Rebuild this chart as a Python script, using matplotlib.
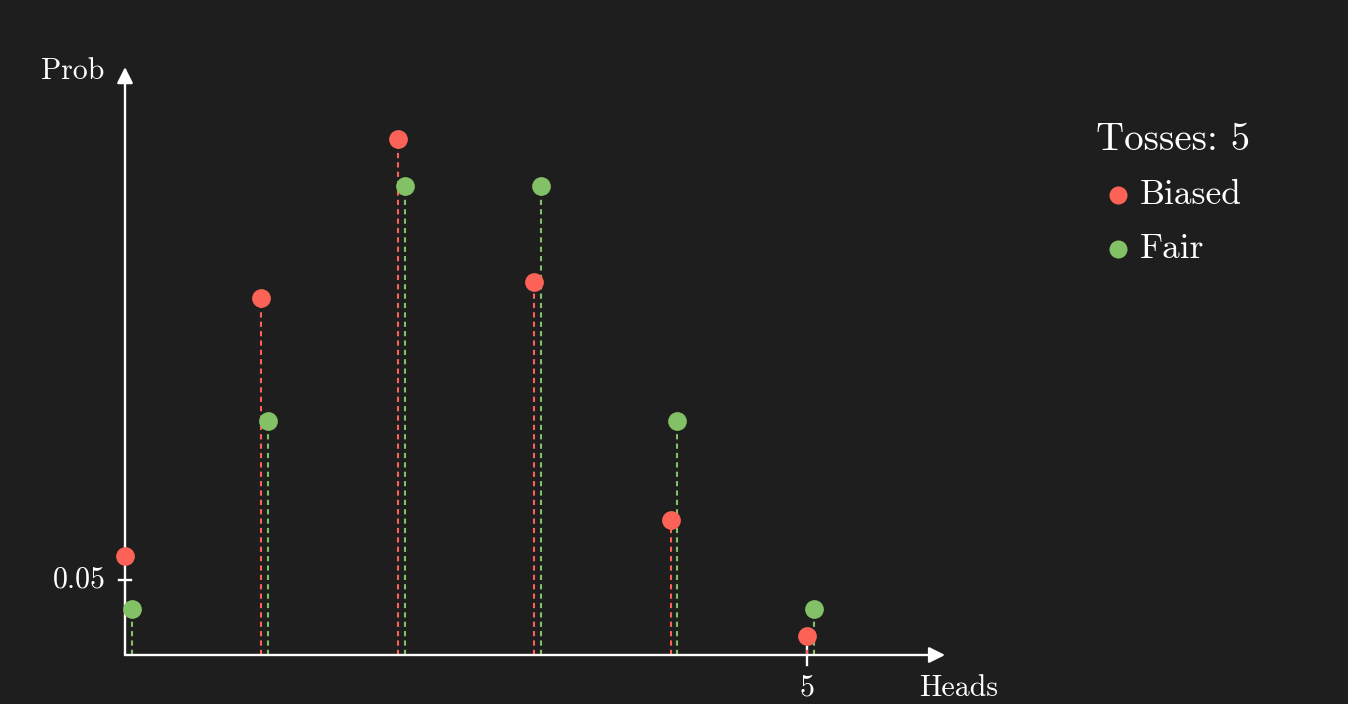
import matplotlib.pyplot as plt

# valeurs
heads = [0, 1, 2, 3, 4, 5]
biased = [0.066, 0.238, 0.344, 0.249, 0.090, 0.013]
fair = [0.031, 0.156, 0.3125, 0.3125, 0.156, 0.031]
series_names = ["Biased", "Fair"]
title = "Tosses: 5"

BG = "#1e1e1e"
RED = "#fc6255"
GREEN = "#83c167"
W, H = 1348, 704


def px(x, y):
    return x / W, 1 - y / H


plt.rcParams["font.family"] = ["cmr10", "DejaVu Serif"]
plt.rcParams["axes.unicode_minus"] = False

fig = plt.figure(figsize=(W / 100, H / 100), dpi=100, facecolor=BG)
ax = fig.add_axes([125 / W, 1 - 655 / H, 818.4 / W, 585 / H])
ax.set_facecolor(BG)
ax.set_xlim(0, 6)
ax.set_ylim(0, 0.39)
ax.axis("off")

# axes avec flèches
arrow = dict(arrowstyle="-|>", color="white", lw=1.7, mutation_scale=24,
             shrinkA=0, shrinkB=0)
ax.annotate("", xy=(1.002, 0), xytext=(0, 0), xycoords="axes fraction",
            arrowprops=arrow, annotation_clip=False)
ax.annotate("", xy=(0, 1.005), xytext=(0, 0), xycoords="axes fraction",
            arrowprops=arrow, annotation_clip=False)

# graduations
ax.plot([-0.045, 0.045], [0.05, 0.05], color="white", lw=1.7, clip_on=False)
ax.plot([5, 5], [-0.0067, 0.0053], color="white", lw=1.7, clip_on=False)

off = 0.05
for i, h in enumerate(heads):
    ax.plot([h, h], [0, biased[i]], color=RED, lw=1.5,
            linestyle=(0, (2.5, 2)), zorder=2, clip_on=False)
    ax.plot([h + off, h + off], [0, fair[i]], color=GREEN, lw=1.5,
            linestyle=(0, (2.5, 2)), zorder=2, clip_on=False)

ax.plot(heads, biased, "o", color=RED, ms=13.5, mec="none", zorder=4, clip_on=False)
ax.plot([h + off for h in heads], fair, "o", color=GREEN, ms=13.5, mec="none",
        zorder=3, clip_on=False)

# textes
fig.text(*px(104, 71), "Prob", color="white", fontsize=21.5, ha="right", va="center")
fig.text(*px(106, 580), "0.05", color="white", fontsize=21.5, ha="right", va="center")
fig.text(*px(807, 688), "5", color="white", fontsize=21.5, ha="center", va="center")
fig.text(*px(919, 688), "Heads", color="white", fontsize=21.5, ha="left", va="center")

# légende
fig.text(*px(1096, 140), title, color="white", fontsize=28, ha="left", va="center")
for name, col, y in zip(series_names, [RED, GREEN], [195, 249]):
    fig.add_artist(plt.Line2D([1118 / W], [1 - y / H], marker="o", color=col,
                              ms=13, mec="none", transform=fig.transFigure))
    fig.text(*px(1140, y), name, color="white", fontsize=25.5, ha="left", va="center")

fig.savefig("out.png", dpi=100, facecolor=BG)
